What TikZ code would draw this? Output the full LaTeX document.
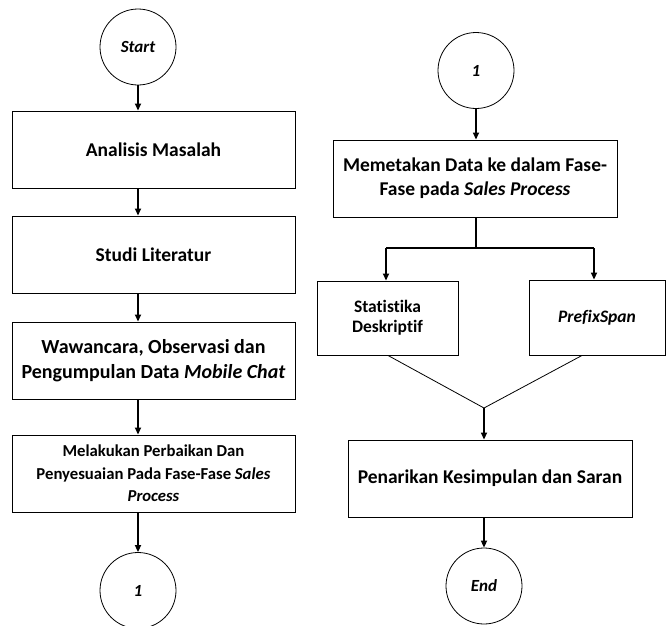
\documentclass[tikz,border=0pt]{standalone}
\usepackage{fontspec}
\setmainfont[Ligatures={NoCommon}]{Carlito}
\usetikzlibrary{arrows.meta}
\begin{document}
\begin{tikzpicture}[x=1pt,y=-1pt,
  box/.style={draw,line width=0.9pt,rectangle,inner sep=0pt,align=center,
    font=\fontsize{19.5}{24}\selectfont\bfseries},
  smallbox/.style={box,font=\fontsize{17.5}{20}\selectfont\bfseries},
  term/.style={draw,line width=0.8pt,circle,inner sep=0pt,minimum size=76pt,
    font=\fontsize{17}{18}\selectfont\bfseries\itshape},
  arr/.style={line width=1.6pt,-{Triangle[width=6pt,length=7pt]}},
  ln/.style={line width=1.6pt},
  thin/.style={line width=0.8pt}]
\useasboundingbox (0,0) rectangle (667,625);
% left column
\node[term] (start) at (138,47) {Start};
\node[box,minimum width=283pt,minimum height=77pt] (b1) at (153.5,149.5) {Analisis Masalah};
\node[box,minimum width=283pt,minimum height=77pt] (b2) at (153.5,254.5) {Studi Literatur};
\node[box,minimum width=283pt,minimum height=77pt,font=\fontsize{20}{25}\selectfont\bfseries] (b3) at (153.5,360.5) {Wawancara, Observasi dan\\Pengumpulan Data \textit{Mobile Chat}};
\node[box,minimum width=283pt,minimum height=77pt,font=\fontsize{16.7}{22.5}\selectfont\bfseries] (b4) at (153.5,473.5) {Melakukan Perbaikan Dan\\Penyesuaian Pada Fase-Fase \textit{Sales}\\\textit{Process}};
\node[term] (c1) at (138,590.5) {1};
\draw[arr] (start.south) -- (start.south |- b1.north);
\draw[arr] (b1.south -| start.south) -- (start.south |- b2.north);
\draw[arr] (b2.south -| start.south) -- (start.south |- b3.north);
\draw[arr] (b3.south -| start.south) -- (start.south |- b4.north);
\draw[arr] (b4.south -| start.south) -- (c1.north);
% right column
\node[term] (c2) at (476,70.5) {1};
\node[box,minimum width=284pt,minimum height=77pt] (r1) at (475,178.5) {Memetakan Data ke dalam Fase-\\Fase pada \textit{Sales Process}};
\node[smallbox,minimum width=141pt,minimum height=74pt] (stat) at (387.5,318) {Statistika\\Deskriptif};
\node[smallbox,minimum width=136pt,minimum height=75pt] (pref) at (597,317.5) {\textit{PrefixSpan}};
\node[box,minimum width=284pt,minimum height=77pt] (r2) at (490,478.5) {Penarikan Kesimpulan dan Saran};
\node[term] (endn) at (484,586) {End};
\coordinate (split) at (476,248);
\coordinate (sl) at (386,248);
\coordinate (sr) at (594,248);
\coordinate (merge) at (484,408);
\draw[arr] (c2.south) -- (c2.south |- r1.north);
\draw[ln] (r1.south -| c2.south) -- (split);
\draw[ln] (sl) -- (sr);
\draw[arr] (sl) -- (sl |- stat.north);
\draw[arr] (sr) -- (sr |- pref.north);
\draw[thin] ([xshift=0.5pt]stat.south) -- (merge) -- ([xshift=-15pt]pref.south);
\draw[arr] (merge) -- (merge |- r2.north);
\draw[arr] (r2.south -| merge) -- (endn.north);
\end{tikzpicture}
\end{document}
